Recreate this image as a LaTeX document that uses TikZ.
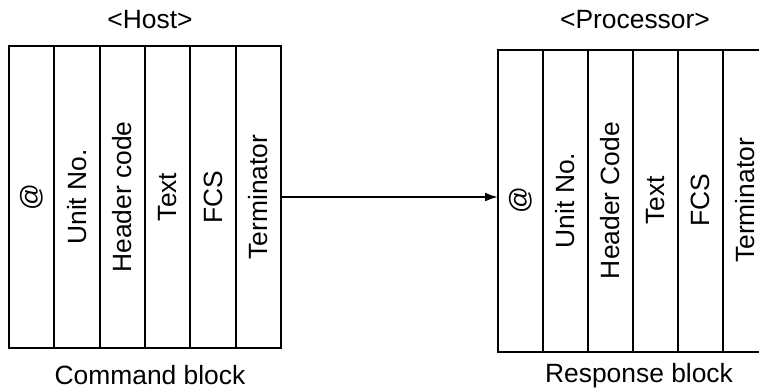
\documentclass[tikz,border=0pt]{standalone}
\usepackage{fontspec}
\setmainfont{Liberation Sans}
\usetikzlibrary{positioning,arrows.meta}

\tikzset{
  every node/.style={font=\fontsize{13.2}{15.8}\selectfont},
  field/.style={draw,line width=1pt,minimum width=22.67pt,minimum height=151pt,
    inner sep=0pt,outer sep=0pt}
}

\begin{document}
\begin{tikzpicture}[x=0.5pt,y=-0.5pt]

\clip (0,0) rectangle (759,388);

% command block (host)
\node[field] (cat) at (31.67,197) {\rotatebox{90}{@}};
\node[field,right=0pt of cat] (cunit) {\rotatebox{90}{Unit No.}};
\node[field,right=0pt of cunit] (chead) {\rotatebox{90}{Header code}};
\node[field,right=0pt of chead] (ctext) {\rotatebox{90}{Text}};
\node[field,right=0pt of ctext] (cfcs) {\rotatebox{90}{FCS}};
\node[field,right=0pt of cfcs] (cterm) {\rotatebox{90}{Terminator}};

% response block (processor)
\tikzset{field/.append style={minimum width=22.5pt}}
\node[field] (rat) at (520.5,200.5) {\rotatebox{90}{@}};
\node[field,right=0pt of rat] (runit) {\rotatebox{90}{Unit No.}};
\node[field,right=0pt of runit] (rhead) {\rotatebox{90}{Header Code}};
\node[field,right=0pt of rhead] (rtext) {\rotatebox{90}{Text}};
\node[field,right=0pt of rtext] (rfcs) {\rotatebox{90}{FCS}};
\node[field,right=0pt of rfcs] (rterm) {\rotatebox{90}{Terminator}};

\node[anchor=base] (host) at (150,28) {<Host>};
\node[anchor=base] (proc) at (635,28) {<Processor>};
\node[anchor=base] (cmd) at (150,384) {Command block};
\node[anchor=base] (resp) at (639,382) {Response block};

\draw[-{Latex[length=6.5pt,width=4.5pt]},line width=1pt] (cterm.east) -- (cterm.east -| rat.west);

\end{tikzpicture}
\end{document}
